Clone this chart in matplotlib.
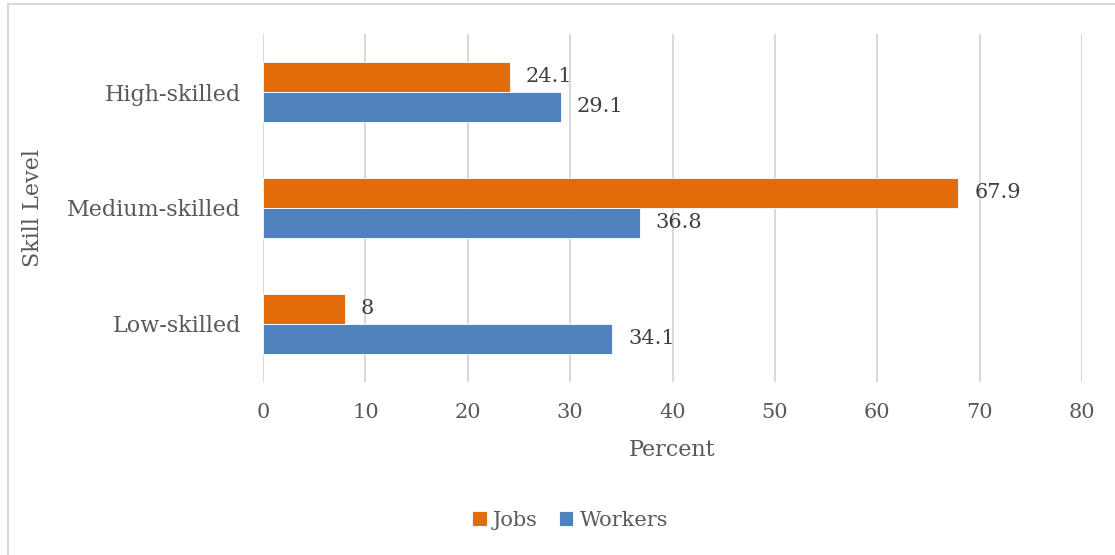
import matplotlib.pyplot as plt
import numpy as np
from matplotlib.lines import Line2D

categories = ["Low-skilled", "Medium-skilled", "High-skilled"]
jobs = [8, 67.9, 24.1]
workers = [34.1, 36.8, 29.1]
xticks = [0, 10, 20, 30, 40, 50, 60, 70, 80]

orange = "#E36C0A"
blue = "#4F81BD"
txt = "#595959"

plt.rcParams['font.family'] = ['DejaVu Serif']

W, H = 1115, 555
fig = plt.figure(figsize=(W/100, H/100), dpi=100)
ax = fig.add_axes([263/W, 1 - 382/H, (1082 - 263)/W, 348/H])

# chart frame (only top and left edges visible in the crop)
fig.lines.append(Line2D([8/W, 8/W], [0, 1 - 4/H], transform=fig.transFigure,
                        color="#D9D9D9", linewidth=1.5))
fig.lines.append(Line2D([8/W, 1], [1 - 4/H, 1 - 4/H], transform=fig.transFigure,
                        color="#D9D9D9", linewidth=1.5))

y = np.arange(len(categories))
h = 30/116
bj = ax.barh(y + h/2, jobs, height=h, color=orange, edgecolor="white", linewidth=0.6, label="Jobs")
bw = ax.barh(y - h/2, workers, height=h, color=blue, edgecolor="white", linewidth=0.6, label="Workers")

for bars, vals in ((bj, jobs), (bw, workers)):
    for b, v in zip(bars, vals):
        ax.annotate(f"{v:g}", (v, b.get_y() + b.get_height()/2), xytext=(16, 0),
                    textcoords="offset pixels", va="center", ha="left",
                    fontsize=15, color="#404040")

ax.set_xlim(0, 80)
ax.set_ylim(-0.5, 2.5)
ax.set_xticks(xticks)
ax.set_yticks(y)
ax.set_yticklabels(categories)
ax.grid(axis="x", color="#D9D9D9", linewidth=1.5)
ax.set_axisbelow(True)
for s in ax.spines.values():
    s.set_visible(False)
ax.tick_params(axis="both", length=0, colors=txt, labelsize=15)
ax.tick_params(axis="x", pad=15)
ax.tick_params(axis="y", pad=16, labelsize=16)

ax.set_xlabel("Percent", fontsize=16, color=txt, va="center")
ax.xaxis.set_label_coords(0.5, -(450 - 382)/348)
ax.set_ylabel("Skill Level", fontsize=16, color=txt, va="center", ha="center")
ax.yaxis.set_label_coords(-(263 - 33)/819, 0.5)

handles, labels = ax.get_legend_handles_labels()
fig.legend(handles, labels, loc="center", bbox_to_anchor=(570/W, 1 - 520/H),
           ncol=2, frameon=False, fontsize=15, labelcolor=txt,
           handlelength=0.7, handleheight=0.7, handletextpad=0.3, columnspacing=1.0)

fig.savefig("out.png", dpi=100, facecolor="white")
